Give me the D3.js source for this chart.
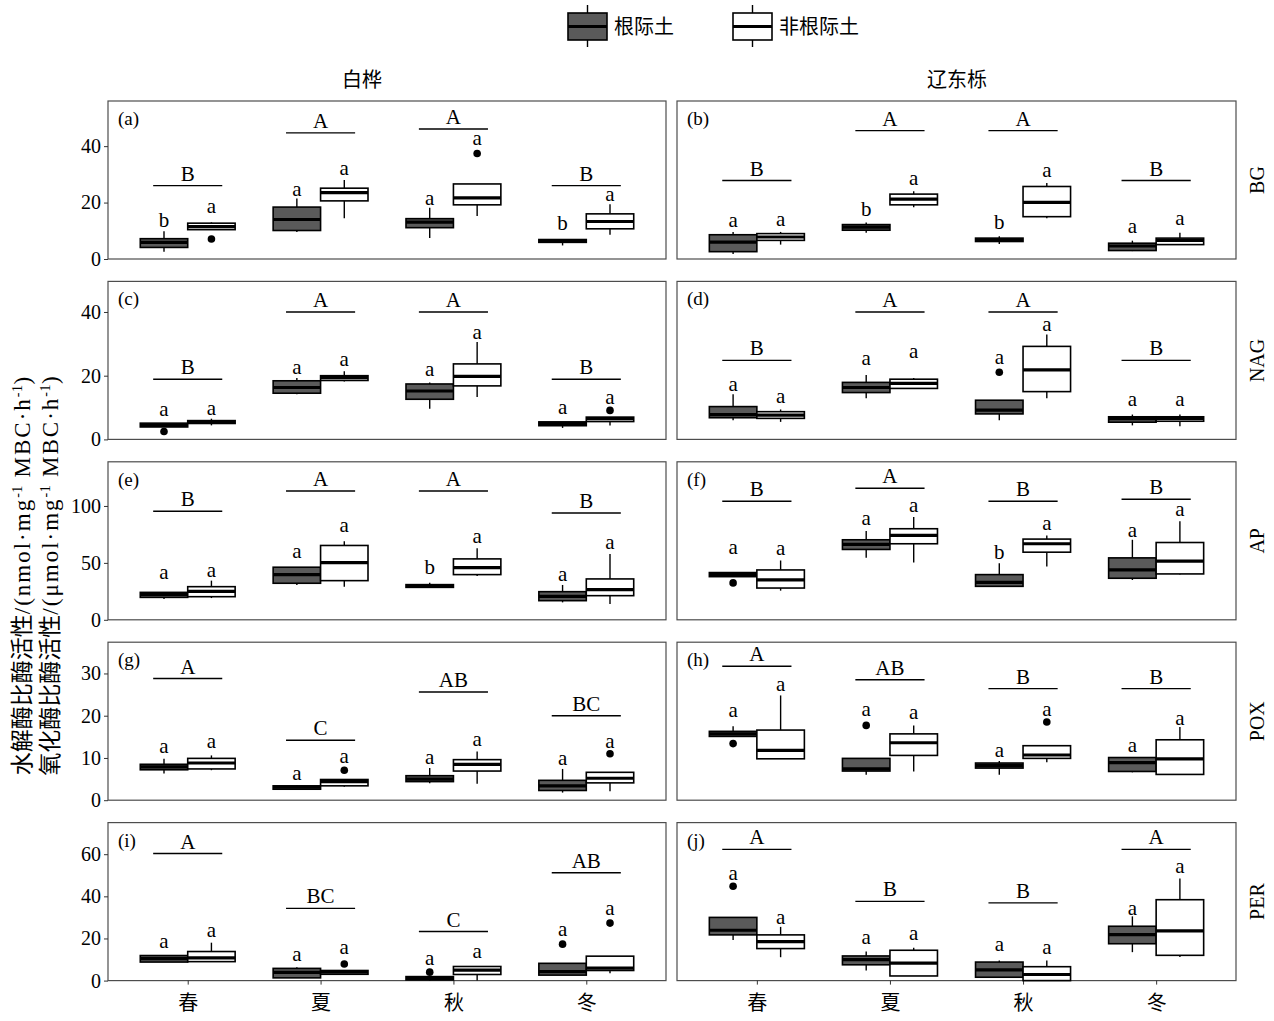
<!DOCTYPE html>
<html><head><meta charset="utf-8">
<script src="https://cdn.jsdelivr.net/npm/d3@7"></script>
<style>body{margin:0;background:#fff}svg{display:block}</style>
</head><body>
<svg id="chart" width="1274" height="1021"></svg>
<script>
// ---------- data ----------
const seasons = ["春", "夏", "秋", "冬"];
const species = ["白桦", "辽东栎"];
const soilTypes = ["根际土", "非根际土"];
const enzymes = ["BG", "NAG", "AP", "POX", "PER"];
const panelTags = ["(a)", "(b)", "(c)", "(d)", "(e)", "(f)", "(g)", "(h)", "(i)", "(j)"];
const yTicks = [[0, 20, 40], [0, 20, 40], [0, 50, 100], [0, 10, 20, 30], [0, 20, 40, 60]];
const yMax = [56, 49.6, 138.8, 37.4, 75];
const yTitle1 = "水解酶比酶活性/(nmol·mg";
const yTitle2 = "氧化酶比酶活性/(μmol·mg";

// box stats per season: [root soil, non-root soil], each [lowWhisker, q1, median, q3, highWhisker]
const statsA = [[[2.6,4.1,5.9,7.2,9.8],[10.4,10.4,11.5,12.7,13.0]],[[9.6,10.1,14.0,18.4,21.4],[14.4,20.6,23.5,25.1,28.0]],[[7.4,11.1,13.1,14.3,18.2],[15.2,19.2,21.7,26.6,26.6]],[[4.8,5.9,6.3,6.9,7.0],[8.6,10.7,13.3,16.0,19.4]]];
const statsB = [[[1.8,2.6,6.0,8.6,9.6],[5.1,6.6,7.8,9.0,9.6]],[[9.3,10.2,11.3,12.2,12.9],[18.3,19.2,21.2,23.0,24.0]],[[5.3,6.2,6.8,7.4,8.1],[14.4,15.0,20.1,25.7,26.9]],[[2.8,3.0,4.6,5.6,6.5],[5.1,5.1,6.6,7.4,9.3]]];
const statsC = [[[3.9,3.9,4.4,5.1,5.1],[4.4,5.0,5.5,5.9,6.5]],[[14.2,14.5,16.3,18.4,19.3],[18.2,18.5,19.4,20.0,21.4]],[[9.6,12.6,15.2,17.4,17.9],[13.3,16.8,19.8,23.7,30.6]],[[3.6,4.3,5.0,5.5,5.5],[4.4,5.6,6.5,7.0,7.0]]];
const statsD = [[[6.0,6.8,7.8,10.3,14.2],[5.5,6.6,7.6,8.7,9.4]],[[12.9,14.7,16.3,17.9,20.2],[15.8,16.0,17.6,18.9,19.3]],[[6.0,8.0,9.2,12.3,12.3],[12.9,15.0,21.8,29.2,32.9]],[[4.4,5.4,6.5,7.1,7.8],[4.1,5.7,6.6,7.1,7.8]]];
const statsE = [[[18.2,19.7,22.4,24.1,24.1],[19.1,20.3,25.0,29.1,34.4]],[[30.6,32.1,39.7,46.2,46.2],[29.1,34.4,50.3,65.3,69.1]],[[28.5,28.5,29.4,30.9,32.6],[38.5,39.7,45.9,53.5,62.9]],[[15.3,16.8,20.6,24.7,30.6],[13.8,21.2,26.5,35.9,57.9]]];
const statsF = [[[37.9,37.9,39.7,41.5,41.5],[25.6,27.9,35.0,43.8,52.1]],[[54.4,61.8,66.2,70.3,77.9],[50.3,66.8,74.1,80.0,90.3]],[[29.4,29.4,32.9,39.7,49.7],[46.8,59.4,66.8,70.9,74.1]],[[35.0,36.5,43.8,54.4,70.3],[39.7,40.3,51.5,67.9,86.5]]];
const statsG = [[[6.3,7.2,7.9,8.5,9.8],[7.1,7.4,8.8,9.9,10.6]],[[2.6,2.6,3.1,3.4,3.6],[3.2,3.4,4.4,4.9,4.9]],[[4.0,4.4,5.0,5.8,7.6],[3.9,6.9,8.5,9.6,11.5]],[[1.8,2.3,3.4,4.7,7.4],[2.1,4.1,5.2,6.6,6.6]]];
const statsH = [[[15.1,15.1,15.7,16.3,17.5],[9.8,9.8,11.8,16.6,24.8]],[[6.0,6.9,7.4,9.9,9.9],[6.8,10.6,13.6,15.7,17.7]],[[6.0,7.6,8.2,8.8,9.3],[9.0,9.9,10.7,12.9,12.9]],[[6.6,6.8,8.9,10.1,10.1],[6.0,6.1,9.8,14.3,17.3]]];
const statsI = [[[8.8,8.8,10.4,11.9,12.2],[9.0,9.0,10.8,13.8,18.0]],[[1.3,1.3,3.9,5.8,6.3],[2.7,3.0,4.0,4.8,4.8]],[[0,0.3,1.1,1.9,1.9],[0,2.9,5.0,6.7,6.7]],[[2.6,2.6,4.3,8.2,8.2],[3.5,4.8,5.9,11.6,11.6]]];
const statsJ = [[[19.3,21.7,23.9,30.0,30.0],[11.1,15.2,18.5,21.7,25.5]],[[4.8,7.5,10.0,11.7,13.8],[2.2,2.2,8.3,14.4,15.6]],[[1.6,1.6,5.1,8.8,9.6],[0,0,2.9,6.6,9.6]],[[13.5,17.5,21.8,25.8,30.5],[11.2,12.0,23.6,38.4,48.5]]];

// outliers: [seasonIndex, soilIndex, value]
const outliersA = [[0,1,7.1],[2,1,37.4]];
const outliersB = [];
const outliersC = [[0,0,2.5],[3,1,9.1]];
const outliersD = [[2,0,21.1]];
const outliersE = [];
const outliersF = [[0,0,32.4]];
const outliersG = [[1,1,7.1],[3,1,11.0]];
const outliersH = [[0,0,13.4],[1,0,17.7],[2,1,18.5]];
const outliersI = [[1,1,7.9],[2,0,4.0],[3,0,17.3],[3,1,27.3]];
const outliersJ = [[0,0,44.8]];

// soil-type significance letters per season: [[letter, y], [letter, y]]
const lettersA = [[["b",13.1],["a",18.2]],[["a",24.2],["a",31.6]],[["a",20.8],["a",42.2]],[["b",12.2],["a",22.4]]];
const lettersB = [[["a",13.1],["a",13.5]],[["b",17.0],["a",28.0]],[["b",12.5],["a",30.7]],[["a",11.0],["a",13.7]]];
const lettersC = [[["a",8.9],["a",9.1]],[["a",22.1],["a",24.6]],[["a",21.6],["a",33.2]],[["a",9.4],["a",12.6]]];
const lettersD = [[["a",16.8],["a",13.1]],[["a",25.0],["a",27.1]],[["a",25.3],["a",35.7]],[["a",11.9],["a",11.9]]];
const lettersE = [[["a",40.3],["a",41.8]],[["a",58.5],["a",81.5]],[["b",44.7],["a",71.8]],[["a",38.8],["a",66.8]]];
const lettersF = [[["a",62.4],["a",60.9]],[["a",87.4],["a",99.1]],[["b",57.9],["a",83.5]],[["a",77.1],["a",95.6]]];
const lettersG = [[["a",12.3],["a",13.5]],[["a",6.0],["a",9.9]],[["a",9.8],["a",13.9]],[["a",9.5],["a",13.5]]];
const lettersH = [[["a",20.9],["a",27.0]],[["a",21.1],["a",20.3]],[["a",11.4],["a",21.2]],[["a",12.7],["a",19.1]]];
const lettersI = [[["a",18.0],["a",23.1]],[["a",11.6],["a",15.1]],[["a",10.0],["a",13.2]],[["a",23.6],["a",33.7]]];
const lettersJ = [[["a",50.1],["a",29.2]],[["a",19.6],["a",21.7]],[["a",16.4],["a",14.8]],[["a",33.5],["a",53.3]]];

// season significance letters with bar height: [letter, y]
const groupsA = [["B",26.0],["A",44.7],["A",46.1],["B",26.0]];
const groupsB = [["B",27.8],["A",45.5],["A",45.5],["B",27.8]];
const groupsC = [["B",18.9],["A",40.0],["A",40.0],["B",18.9]];
const groupsD = [["B",24.8],["A",40.0],["A",40.0],["B",24.8]];
const groupsE = [["B",95.3],["A",113.2],["A",113.2],["B",93.8]];
const groupsF = [["B",104.1],["A",115.6],["B",104.1],["B",105.9]];
const groupsG = [["A",28.8],["C",14.2],["AB",25.6],["BC",20.0]];
const groupsH = [["A",31.7],["AB",28.5],["B",26.4],["B",26.4]];
const groupsI = [["A",60.3],["BC",34.3],["C",23.3],["AB",51.2]];
const groupsJ = [["A",62.3],["B",37.6],["B",36.9],["A",62.3]];

const panels = [
  {stats: statsA, out: outliersA, let: lettersA, grp: groupsA},
  {stats: statsB, out: outliersB, let: lettersB, grp: groupsB},
  {stats: statsC, out: outliersC, let: lettersC, grp: groupsC},
  {stats: statsD, out: outliersD, let: lettersD, grp: groupsD},
  {stats: statsE, out: outliersE, let: lettersE, grp: groupsE},
  {stats: statsF, out: outliersF, let: lettersF, grp: groupsF},
  {stats: statsG, out: outliersG, let: lettersG, grp: groupsG},
  {stats: statsH, out: outliersH, let: lettersH, grp: groupsH},
  {stats: statsI, out: outliersI, let: lettersI, grp: groupsI},
  {stats: statsJ, out: outliersJ, let: lettersJ, grp: groupsJ}
];

// ---------- layout ----------
const svg = d3.select("#chart");
const SERIF = "'Liberation Serif','Times New Roman',serif";
const CJK = "'Noto Sans CJK SC','Noto Sans CJK JP',sans-serif";
const fills = ["#5a5a5a", "#ffffff"];
const colX = [[108, 666], [677, 1236]];
const titleX = [362, 957];
const rowTop0 = 101, rowStep = 180.4, panelH = 158;
const boxW = 0.357, grpHalf = 0.26;

panels.forEach((p, i) => {
  const row = Math.floor(i / 2), col = i % 2;
  const [x0, x1] = colX[col];
  const top = rowTop0 + row * rowStep, bottom = top + panelH;
  const x = d3.scaleLinear().domain([-0.6, 3.6]).range([x0, x1]);
  const y = d3.scaleLinear().domain([0, yMax[row]]).range([bottom, top]);
  const g = svg.append("g");

  g.append("rect").attr("x", x0).attr("y", top).attr("width", x1 - x0).attr("height", panelH)
    .attr("fill", "none").attr("stroke", "#4d4d4d").attr("stroke-width", 1.2);

  if (col === 0) {
    const ax = g.append("g").attr("transform", `translate(${x0},0)`)
      .call(d3.axisLeft(y).tickValues(yTicks[row]).tickSize(4).tickPadding(3).tickFormat(d3.format("d")));
    ax.select(".domain").remove();
    ax.selectAll("line").attr("stroke", "#333");
    ax.selectAll("text").attr("font-family", SERIF).attr("font-size", 20).attr("fill", "#000");
  }
  if (row === 4) {
    const ax = g.append("g").attr("transform", `translate(0,${bottom})`)
      .call(d3.axisBottom(x).tickValues([0, 1, 2, 3]).tickSize(4).tickPadding(11).tickFormat(d => seasons[d]));
    ax.select(".domain").remove();
    ax.selectAll("line").attr("stroke", "#333");
    ax.selectAll("text").attr("font-family", CJK).attr("font-size", 20).attr("fill", "#000");
  }

  g.append("text").attr("x", x0 + 10).attr("y", top + 24).text(panelTags[i])
    .attr("font-family", SERIF).attr("font-size", 19);

  p.stats.forEach((pair, s) => {
    pair.forEach((st, k) => {
      const xl = x(s + (k - 1) * boxW), xr = x(s + k * boxW), xc = (xl + xr) / 2;
      const [lo, q1, md, q3, hi] = st;
      g.append("line").attr("x1", xc).attr("x2", xc).attr("y1", y(q3)).attr("y2", y(hi))
        .attr("stroke", "#000").attr("stroke-width", 1.4);
      g.append("line").attr("x1", xc).attr("x2", xc).attr("y1", y(q1)).attr("y2", y(lo))
        .attr("stroke", "#000").attr("stroke-width", 1.4);
      g.append("rect").attr("x", xl).attr("y", y(q3)).attr("width", xr - xl)
        .attr("height", Math.max(0.5, y(q1) - y(q3)))
        .attr("fill", fills[k]).attr("stroke", "#000").attr("stroke-width", 1.6);
      g.append("line").attr("x1", xl).attr("x2", xr).attr("y1", y(md)).attr("y2", y(md))
        .attr("stroke", "#000").attr("stroke-width", 3.2);
    });
  });

  p.out.forEach(([s, k, v]) => {
    const xc = x(s + (k - 0.5) * boxW);
    g.append("circle").attr("cx", xc).attr("cy", y(v)).attr("r", 3.8).attr("fill", "#000");
  });

  p.let.forEach((pair, s) => {
    pair.forEach(([t, v], k) => {
      const xc = x(s + (k - 0.5) * boxW);
      g.append("text").attr("x", xc).attr("y", y(v) + 5).attr("text-anchor", "middle")
        .attr("font-family", SERIF).attr("font-size", 21).text(t);
    });
  });

  p.grp.forEach(([t, v], s) => {
    g.append("line").attr("x1", x(s - grpHalf)).attr("x2", x(s + grpHalf)).attr("y1", y(v)).attr("y2", y(v))
      .attr("stroke", "#000").attr("stroke-width", 1.4);
    g.append("text").attr("x", x(s)).attr("y", y(v) - 5).attr("text-anchor", "middle")
      .attr("font-family", SERIF).attr("font-size", 21).text(t);
  });

  if (col === 1) {
    svg.append("text").attr("transform", `translate(1264,${(top + bottom) / 2}) rotate(-90)`)
      .attr("text-anchor", "middle").attr("font-family", SERIF).attr("font-size", 20).text(enzymes[row]);
  }
});

species.forEach((t, c) => {
  svg.append("text").attr("x", titleX[c]).attr("y", 87).attr("text-anchor", "middle")
    .attr("font-family", CJK).attr("font-size", 20).text(t);
});

const legX = [568, 733];
soilTypes.forEach((t, k) => {
  const lg = svg.append("g");
  const lx = legX[k];
  lg.append("line").attr("x1", lx + 19.5).attr("x2", lx + 19.5).attr("y1", 5).attr("y2", 47).attr("stroke", "#000").attr("stroke-width", 1.4);
  lg.append("rect").attr("x", lx).attr("y", 13).attr("width", 39).attr("height", 27)
    .attr("fill", fills[k]).attr("stroke", "#000").attr("stroke-width", 1.6);
  lg.append("line").attr("x1", lx).attr("x2", lx + 39).attr("y1", 26.5).attr("y2", 26.5).attr("stroke", "#000").attr("stroke-width", 3);
  lg.append("text").attr("x", lx + 46).attr("y", 34).attr("font-family", CJK).attr("font-size", 20).text(t);
});

// y axis title (two lines)
[[yTitle1, 30], [yTitle2, 58]].forEach(([t, xx]) => {
  const tx = svg.append("text").attr("transform", `translate(${xx},575) rotate(-90)`)
    .attr("text-anchor", "middle").attr("font-size", 23);
  tx.append("tspan").attr("font-family", CJK).text(t.split("/")[0]);
  const L = (s) => tx.append("tspan").attr("font-family", SERIF).attr("letter-spacing", 2).text(s);
  L("/" + t.split("/")[1]);
  L("-1").attr("font-size", 14).attr("dy", -8).attr("letter-spacing", 0.5);
  L(" MBC·h").attr("dy", 8);
  L("-1").attr("font-size", 14).attr("dy", -8).attr("letter-spacing", 0.5);
  L(")").attr("dy", 8);
});
</script>
</body></html>
